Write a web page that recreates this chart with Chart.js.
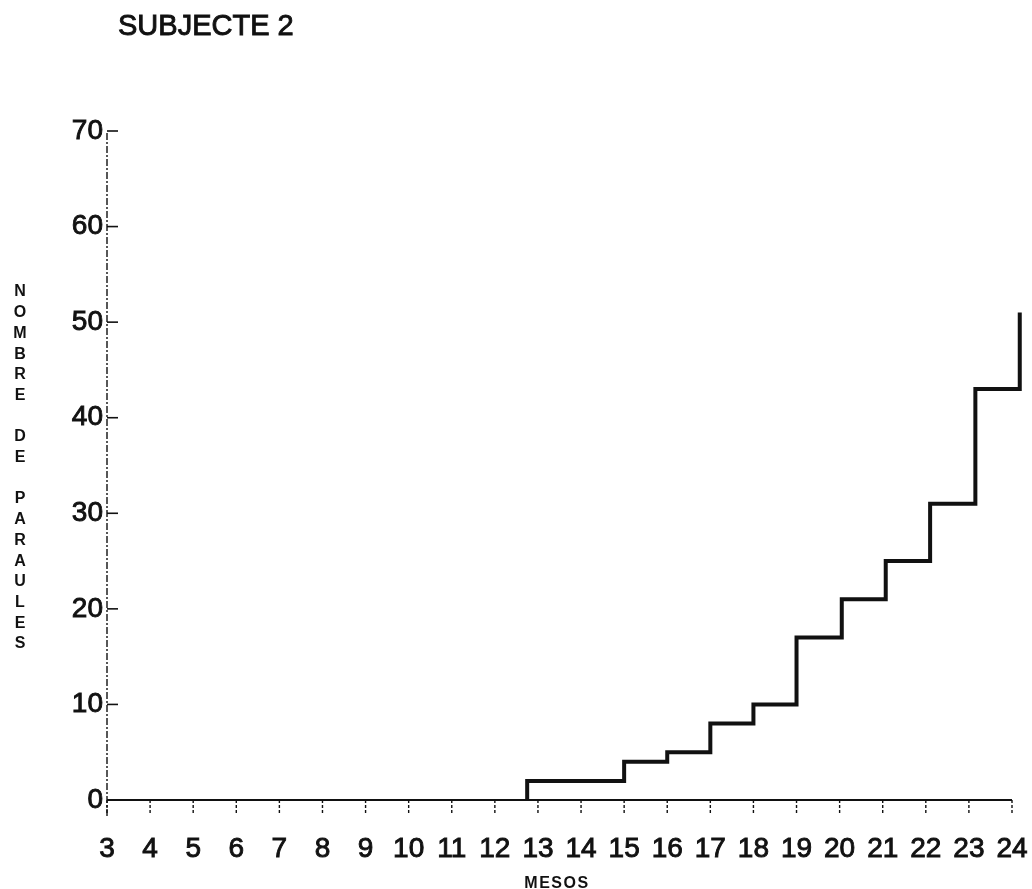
<!DOCTYPE html>
<html>
<head>
<meta charset="utf-8">
<title>Subjecte 2</title>
<script src="https://cdn.jsdelivr.net/npm/chart.js@4/dist/chart.umd.min.js"></script>
<style>
  html, body { margin: 0; padding: 0; background: #fff; }
  #wrap { width: 1032px; height: 889px; }
</style>
</head>
<body>
<div id="wrap"><canvas id="grafic" width="1032" height="889"></canvas></div>
<script>
// mesos on canvia el nombre de paraules, i el valor acumulat
const mesos = [3, 12.75, 12.75, 15, 16, 17, 18, 19, 20.05, 21.07, 22.1, 23.15, 24.18];
const paraules = [0, 0, 2, 4, 5, 8, 10, 17, 21, 25, 31, 43, 51];

const ticksMesos = [3, 4, 5, 6, 7, 8, 9, 10, 11, 12, 13, 14, 15, 16, 17, 18, 19, 20, 21, 22, 23, 24];
const ticksParaules = [0, 10, 20, 30, 40, 50, 60, 70];

const titol = 'SUBJECTE 2';
const titolY = 'NOMBRE DE PARAULES';
const titolX = 'MESOS';

const tinta = '#111';
const lletra = "'Liberation Sans', Arial, sans-serif";

// eixos dibuixats a ma: eix y puntejat amb marques cap a dins, eix x amb marques puntejades cap avall
const eixos = {
  id: 'eixos',
  beforeDatasetsDraw(chart) {
    const { ctx, scales: { x, y } } = chart;
    const x0 = x.getPixelForValue(3);
    const x1 = x.getPixelForValue(24);
    const y0 = y.getPixelForValue(0);
    const yTop = y.getPixelForValue(70);
    ctx.save();
    ctx.strokeStyle = tinta;

    // eix y
    ctx.lineWidth = 1.4;
    ctx.setLineDash([7, 2, 2, 2]);
    ctx.beginPath();
    ctx.moveTo(x0, y0 + 16);
    ctx.lineTo(x0, yTop);
    ctx.stroke();
    ctx.setLineDash([]);
    ctx.lineWidth = 1.6;
    ticksParaules.forEach(v => {
      if (v === 0) return;
      const py = y.getPixelForValue(v);
      ctx.beginPath();
      ctx.moveTo(x0, py);
      ctx.lineTo(x0 + 11, py);
      ctx.stroke();
    });

    // eix x
    ctx.lineWidth = 2;
    ctx.beginPath();
    ctx.moveTo(x0, y0);
    ctx.lineTo(x1, y0);
    ctx.stroke();
    ctx.lineWidth = 1.4;
    ctx.setLineDash([3, 2]);
    ticksMesos.forEach(v => {
      const px = x.getPixelForValue(v);
      ctx.beginPath();
      ctx.moveTo(px, y0);
      ctx.lineTo(px, y0 + 15);
      ctx.stroke();
    });
    ctx.restore();
  },
  afterDraw(chart) {
    const { ctx } = chart;
    ctx.save();
    ctx.fillStyle = tinta;
    ctx.strokeStyle = tinta;

    ctx.font = '29px ' + lletra;
    ctx.textAlign = 'left';
    ctx.textBaseline = 'alphabetic';
    ctx.lineWidth = 0.9;
    ctx.fillText(titol, 118, 35);
    ctx.strokeText(titol, 118, 35);

    ctx.font = 'bold 16px ' + lletra;
    ctx.textAlign = 'center';
    ctx.letterSpacing = '1.5px';
    ctx.fillText(titolX, 557, 888);
    ctx.letterSpacing = '0px';

    // titol vertical, una lletra sota l'altra
    ctx.font = 'bold 16px ' + lletra;
    ctx.textBaseline = 'middle';
    titolY.split('').forEach((c, i) => {
      if (c !== ' ') ctx.fillText(c, 20, 292 + i * 20.7);
    });
    ctx.restore();
  }
};

new Chart(document.getElementById('grafic'), {
  type: 'line',
  data: {
    datasets: [{
      data: mesos.map((m, i) => ({ x: m, y: paraules[i] })),
      stepped: true,
      borderColor: tinta,
      borderWidth: 4,
      borderJoinStyle: 'miter',
      pointRadius: 0,
      fill: false,
      clip: false,
      segment: {
        borderWidth: c => (c.p0.parsed.y === 0 && c.p1.parsed.y === 0 ? 2 : 4)
      }
    }]
  },
  options: {
    responsive: false,
    animation: false,
    devicePixelRatio: 1,
    layout: { padding: { top: 131, right: 20, left: 0, bottom: 0 } },
    plugins: { legend: { display: false }, tooltip: { enabled: false } },
    scales: {
      x: {
        type: 'linear',
        min: 3,
        max: 24,
        afterBuildTicks: s => { s.ticks = ticksMesos.map(v => ({ value: v })); },
        afterFit: s => { s.height = 89; s.paddingLeft = 0; s.paddingRight = 0; },
        grid: { display: false, drawTicks: false },
        border: { display: false },
        ticks: {
          color: tinta,
          font: { family: lletra, size: 28 },
          textStrokeColor: tinta,
          textStrokeWidth: 0.9,
          padding: 32,
          maxRotation: 0,
          autoSkip: false
        }
      },
      y: {
        type: 'linear',
        min: 0,
        max: 70,
        afterBuildTicks: s => { s.ticks = ticksParaules.map(v => ({ value: v })); },
        afterFit: s => { s.width = 107; s.paddingTop = 0; s.paddingBottom = 0; },
        grid: { display: false, drawTicks: false },
        border: { display: false },
        ticks: {
          color: tinta,
          font: { family: lletra, size: 28 },
          textStrokeColor: tinta,
          textStrokeWidth: 0.9,
          padding: 4
        }
      }
    }
  },
  plugins: [eixos]
});
</script>
</body>
</html>
